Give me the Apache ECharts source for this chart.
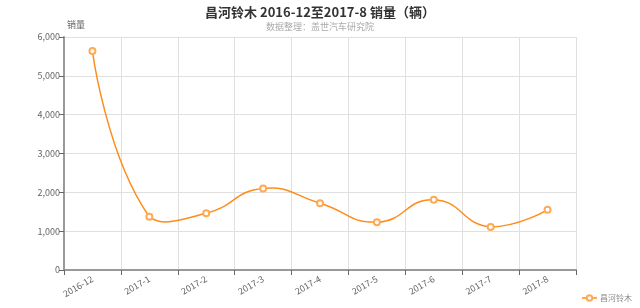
<!DOCTYPE html>
<html><head><meta charset="utf-8">
<script src="https://cdn.jsdelivr.net/npm/echarts@6/dist/echarts.min.js"></script>
<style>html,body{margin:0;padding:0;background:#fff}#c{width:640px;height:308px}</style>
</head><body><div id="c"></div>
<script>
const categories = ['2016-12','2017-1','2017-2','2017-3','2017-4','2017-5','2017-6','2017-7','2017-8'];
const sales = [5640, 1370, 1460, 2100, 1720, 1230, 1810, 1110, 1550];
const seriesName = '昌河铃木';
const titleText = '昌河铃木 2016-12至2017-8 销量（辆）';
const subText = '数据整理：盖世汽车研究院';
const yName = '销量';

const lineColor = '#ff8c1a';
const markerColor = '#ffaa55';
const smoothness = 0.5;

// Smooth curve (bezier with bounding-box constrained control points) through library coords
function renderCurve(params, api) {
  if (params.dataIndexInside !== 0) return null;
  const n = params.dataInsideLength;
  const pts = [];
  for (let i = 0; i < n; i++) pts.push(api.coord([api.value(0, i), api.value(1, i)]));
  let minX = Infinity, minY = Infinity, maxX = -Infinity, maxY = -Infinity;
  pts.forEach(p => { minX = Math.min(minX, p[0]); maxX = Math.max(maxX, p[0]); minY = Math.min(minY, p[1]); maxY = Math.max(maxY, p[1]); });
  const clamp = p => [Math.min(Math.max(p[0], minX), maxX), Math.min(Math.max(p[1], minY), maxY)];
  const cps = [];
  for (let i = 0; i < n; i++) {
    const p = pts[i];
    if (i === 0 || i === n - 1) { cps.push([p[0], p[1]]); continue; }
    const prev = pts[i - 1], next = pts[i + 1];
    const v = [(next[0] - prev[0]) * smoothness, (next[1] - prev[1]) * smoothness];
    let d0 = Math.hypot(p[0] - prev[0], p[1] - prev[1]);
    let d1 = Math.hypot(p[0] - next[0], p[1] - next[1]);
    const s = d0 + d1;
    if (s) { d0 /= s; d1 /= s; }
    cps.push(clamp([p[0] - v[0] * d0, p[1] - v[1] * d0]));
    cps.push(clamp([p[0] + v[0] * d1, p[1] + v[1] * d1]));
  }
  const children = [];
  for (let i = 0; i < n - 1; i++) {
    const c1 = cps[2 * i], c2 = cps[2 * i + 1];
    children.push({
      type: 'bezierCurve',
      shape: {x1: pts[i][0], y1: pts[i][1], x2: pts[i + 1][0], y2: pts[i + 1][1],
              cpx1: c1[0], cpy1: c1[1], cpx2: c2[0], cpy2: c2[1]},
      style: {stroke: lineColor, lineWidth: 1.5, fill: null}
    });
  }
  return {type: 'group', children: children};
}

const chart = echarts.init(document.getElementById('c'));
const font = '"Microsoft YaHei","Noto Sans CJK SC",sans-serif';
chart.setOption({
  animation: false,
  title: {
    text: titleText, subtext: subText, left: 'center', top: 1, itemGap: 3,
    textStyle: {fontSize: 13, fontWeight: 'bold', color: '#333', fontFamily: font},
    subtextStyle: {fontSize: 9, color: '#aaa', fontFamily: font}
  },
  legend: {
    data: [seriesName], right: 3, bottom: 1, itemWidth: 15, itemHeight: 7, itemGap: 4,
    lineStyle: {opacity: 1, width: 1.5, color: lineColor},
    textStyle: {fontSize: 8, color: '#888', fontFamily: font, padding: [0, 0, 0, -2]}
  },
  grid: {left: 64, right: 64, top: 37, bottom: 38},
  xAxis: {
    type: 'category', data: categories, boundaryGap: true,
    axisLine: {lineStyle: {color: '#999', width: 2}},
    axisTick: {show: true, lineStyle: {color: '#666'}},
    axisLabel: {rotate: 30, fontSize: 9, color: '#666', fontFamily: font, margin: 8},
    splitLine: {show: true, lineStyle: {color: '#e0e0e0'}}
  },
  yAxis: {
    type: 'value', min: 0, max: 6000, interval: 1000, name: yName,
    nameTextStyle: {fontSize: 9, color: '#666', fontFamily: font, padding: [0, 0, 0, 24]},
    nameGap: 8,
    axisLine: {show: true, lineStyle: {color: '#999', width: 2}},
    axisTick: {show: true, lineStyle: {color: '#666'}},
    axisLabel: {fontSize: 9, color: '#666', fontFamily: font, margin: 4},
    splitLine: {show: true, lineStyle: {color: '#e0e0e0'}}
  },
  series: [{
    type: 'custom', name: 'curve', renderItem: renderCurve,
    data: sales.map((v, i) => [i, v]), encode: {x: 0, y: 1}, silent: true, z: 2
  }, {
    name: seriesName, type: 'line', data: sales,
    symbol: 'emptyCircle', symbolSize: 6, z: 3,
    lineStyle: {color: lineColor, width: 1.5, opacity: 0},
    itemStyle: {color: markerColor, borderColor: markerColor, borderWidth: 1}
  }]
});
</script></body></html>
